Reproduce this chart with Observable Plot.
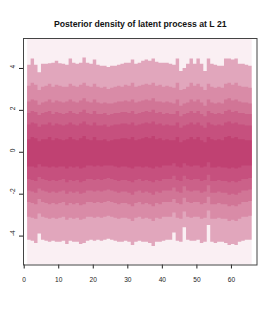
<!DOCTYPE html>
<html>
<head>
<meta charset="utf-8">
<script src="https://cdn.jsdelivr.net/npm/d3@7"></script>
<script src="https://cdn.jsdelivr.net/npm/@observablehq/plot@0.6"></script>
<style>
  html, body { margin: 0; padding: 0; background: #fff; }
  #chart svg { display: block; }
  #chart svg text { opacity: 0.99; }
</style>
</head>
<body>
<div id="chart"></div>
<script>
const titleText = "Posterior density of latent process at L 21";
const xTicks = [0, 10, 20, 30, 40, 50, 60];
const yTicks = [-4, -2, 0, 2, 4];

// time index (columns)
const t = d3.range(1, 66);

// upper quantile boundaries per column
const q99 = [4.15,4.45,4.15,3.8,4.2,4.2,4.22,4.25,4.35,4.22,4.2,4.15,4.45,4.25,4.2,4.25,4.5,4.25,4.2,4.4,4.15,4.1,4.1,4.05,4.1,4.1,4.15,4.2,4.25,4.25,4.4,4.2,4.25,4.35,4.4,4.35,4.45,4.3,4.25,4.25,4.25,4.2,4.15,4.45,3.85,4.0,4.2,4.45,4.2,4.45,4.2,3.85,4.45,4.2,4.15,4.1,4.1,4.45,4.45,4.4,4.45,4.2,4.2,4.15,4.1];
const q95 = [3.15,3.3,3.2,2.95,3.1,3.15,3.25,3.1,3.2,3.15,3.1,3.1,3.25,3.15,3.1,3.2,3.3,3.15,3.1,3.25,3.1,3.05,3.1,3.0,3.05,3.1,3.15,3.1,3.2,3.15,3.3,3.1,3.15,3.2,3.25,3.2,3.3,3.15,3.2,3.1,3.15,3.1,3.05,3.3,2.95,3.0,3.1,3.3,3.15,3.25,3.1,2.95,3.25,3.1,3.05,3.1,3.05,3.25,3.3,3.2,3.3,3.15,3.1,3.1,3.05];
const q90 = [2.4,2.5,2.45,2.25,2.35,2.4,2.5,2.35,2.45,2.4,2.35,2.4,2.5,2.4,2.35,2.45,2.55,2.4,2.35,2.5,2.35,2.3,2.35,2.3,2.3,2.35,2.4,2.4,2.45,2.4,2.5,2.35,2.4,2.45,2.5,2.45,2.55,2.4,2.4,2.35,2.4,2.35,2.3,2.5,2.2,2.3,2.35,2.5,2.4,2.5,2.35,2.2,2.5,2.35,2.3,2.35,2.3,2.5,2.55,2.45,2.5,2.4,2.35,2.35,2.3];
const q85 = [1.85,1.95,1.9,1.75,1.85,1.9,1.95,1.8,1.9,1.85,1.8,1.85,1.95,1.85,1.8,1.9,2.0,1.85,1.8,1.95,1.8,1.8,1.85,1.75,1.8,1.85,1.85,1.9,1.9,1.85,1.95,1.8,1.85,1.9,1.95,1.9,2.0,1.85,1.9,1.8,1.85,1.8,1.8,1.95,1.7,1.8,1.85,1.95,1.85,1.95,1.8,1.7,1.95,1.85,1.8,1.85,1.8,1.95,2.0,1.9,1.95,1.85,1.85,1.8,1.8];
const q75 = [1.3,1.4,1.35,1.2,1.3,1.3,1.4,1.25,1.35,1.3,1.25,1.3,1.4,1.3,1.25,1.35,1.45,1.3,1.25,1.4,1.25,1.25,1.3,1.2,1.25,1.3,1.3,1.35,1.35,1.3,1.4,1.25,1.3,1.35,1.4,1.35,1.45,1.3,1.35,1.25,1.3,1.25,1.25,1.4,1.15,1.25,1.3,1.4,1.3,1.4,1.25,1.15,1.4,1.3,1.25,1.3,1.25,1.4,1.45,1.35,1.4,1.3,1.3,1.25,1.25];
const q65 = [0.6,0.7,0.65,0.5,0.6,0.6,0.7,0.55,0.65,0.6,0.55,0.6,0.7,0.6,0.55,0.65,0.75,0.6,0.55,0.7,0.55,0.55,0.6,0.5,0.55,0.6,0.6,0.65,0.65,0.6,0.7,0.55,0.6,0.65,0.7,0.65,0.75,0.6,0.65,0.55,0.6,0.55,0.55,0.7,0.45,0.55,0.6,0.7,0.6,0.7,0.55,0.45,0.7,0.6,0.55,0.6,0.55,0.7,0.75,0.65,0.7,0.6,0.6,0.55,0.55];

// lower quantile boundaries per column
const q35 = [-0.7,-0.7,-0.75,-0.6,-0.7,-0.7,-0.75,-0.7,-0.75,-0.7,-0.7,-0.8,-0.7,-0.75,-0.7,-0.8,-0.75,-0.65,-0.65,-0.7,-0.65,-0.7,-0.65,-0.65,-0.65,-0.7,-0.75,-0.7,-0.7,-0.75,-0.8,-0.7,-0.7,-0.75,-0.7,-0.75,-0.8,-0.7,-0.75,-0.65,-0.65,-0.65,-0.55,-0.7,-0.75,-0.55,-0.65,-0.7,-0.65,-0.65,-0.75,-0.7,-0.5,-0.75,-0.75,-0.7,-0.75,-0.75,-0.8,-0.75,-0.8,-0.75,-0.65,-0.65,-0.65];
const q25 = [-1.3,-1.35,-1.4,-1.2,-1.3,-1.35,-1.4,-1.35,-1.4,-1.35,-1.3,-1.45,-1.35,-1.4,-1.35,-1.45,-1.4,-1.3,-1.3,-1.35,-1.3,-1.35,-1.3,-1.25,-1.3,-1.35,-1.4,-1.35,-1.35,-1.4,-1.45,-1.35,-1.3,-1.4,-1.35,-1.4,-1.45,-1.35,-1.4,-1.3,-1.3,-1.3,-1.15,-1.35,-1.4,-1.15,-1.3,-1.35,-1.3,-1.3,-1.4,-1.35,-1.1,-1.4,-1.4,-1.35,-1.4,-1.4,-1.45,-1.4,-1.45,-1.4,-1.3,-1.3,-1.25];
const q15 = [-1.85,-1.9,-1.95,-1.75,-1.85,-1.9,-1.95,-1.9,-1.95,-1.9,-1.85,-2.0,-1.9,-1.95,-1.9,-2.0,-1.95,-1.85,-1.85,-1.9,-1.85,-1.9,-1.85,-1.8,-1.85,-1.9,-1.95,-1.9,-1.9,-1.95,-2.05,-1.9,-1.85,-1.95,-1.9,-1.95,-2.05,-1.9,-1.95,-1.85,-1.85,-1.85,-1.7,-1.9,-1.95,-1.65,-1.85,-1.9,-1.85,-1.85,-1.95,-1.9,-1.6,-1.95,-1.95,-1.9,-1.95,-1.95,-2.05,-2.0,-2.05,-1.95,-1.85,-1.85,-1.8];
const q10 = [-2.4,-2.45,-2.5,-2.25,-2.4,-2.45,-2.5,-2.45,-2.5,-2.45,-2.4,-2.55,-2.45,-2.5,-2.45,-2.55,-2.5,-2.4,-2.4,-2.45,-2.4,-2.45,-2.4,-2.35,-2.4,-2.45,-2.5,-2.45,-2.45,-2.5,-2.6,-2.45,-2.4,-2.5,-2.45,-2.5,-2.6,-2.45,-2.5,-2.4,-2.4,-2.4,-2.25,-2.45,-2.5,-2.2,-2.4,-2.45,-2.4,-2.4,-2.5,-2.45,-2.15,-2.5,-2.5,-2.45,-2.5,-2.5,-2.6,-2.55,-2.6,-2.5,-2.4,-2.4,-2.35];
const q05 = [-3.1,-3.15,-3.2,-2.95,-3.1,-3.15,-3.2,-3.15,-3.2,-3.15,-3.1,-3.25,-3.15,-3.2,-3.15,-3.25,-3.2,-3.1,-3.1,-3.15,-3.1,-3.15,-3.1,-3.05,-3.1,-3.15,-3.2,-3.15,-3.15,-3.2,-3.3,-3.15,-3.1,-3.2,-3.15,-3.2,-3.3,-3.15,-3.2,-3.1,-3.1,-3.1,-2.9,-3.15,-3.2,-2.85,-3.1,-3.15,-3.1,-3.1,-3.2,-3.15,-2.8,-3.2,-3.2,-3.15,-3.2,-3.2,-3.3,-3.25,-3.3,-3.2,-3.1,-3.1,-3.05];
const q01 = [-4.2,-4.25,-4.35,-3.9,-4.2,-4.25,-4.3,-4.25,-4.3,-4.3,-4.25,-4.4,-4.25,-4.3,-4.3,-4.4,-4.35,-4.25,-4.2,-4.25,-4.2,-4.25,-4.2,-4.15,-4.2,-4.25,-4.3,-4.3,-4.25,-4.3,-4.45,-4.3,-4.25,-4.3,-4.3,-4.35,-4.5,-4.3,-4.3,-4.25,-4.2,-4.2,-3.85,-4.25,-4.3,-3.6,-4.2,-4.25,-4.25,-4.2,-4.35,-4.3,-3.5,-4.3,-4.35,-4.3,-4.3,-4.35,-4.45,-4.4,-4.45,-4.3,-4.25,-4.2,-4.2];

const bandColors = ["#e1a6bc", "#d98ba7", "#d17596", "#cb6189", "#c6507e", "#c04172"];
const paleColor = "#faeff3";

const yDomain = [-5.38, 5.43];
const xDomain = [-0.2, 67.4];

function band(lo, hi) {
  const rows = t.map((x, i) => ({x, lo: lo[i], hi: hi[i]}));
  rows.push({x: t[t.length - 1] + 1, lo: lo[lo.length - 1], hi: hi[hi.length - 1]});
  return rows;
}

const bands = [
  [q01, q99], [q05, q95], [q10, q90], [q15, q85], [q25, q75], [q35, q65]
];

const marks = [
  Plot.rectY([{x1: t[0], x2: t[t.length - 1] + 1}], {x1: "x1", x2: "x2", y1: yDomain[0], y2: yDomain[1], fill: paleColor}),
  ...bands.map(([lo, hi], k) =>
    Plot.areaY(band(lo, hi), {x: "x", y1: "lo", y2: "hi", curve: "step-after", fill: bandColors[k]})
  ),
  Plot.axisX({ticks: xTicks, tickSize: 4, tickPadding: 8, fontSize: 6.6, label: null, tickFormat: d => String(d), fill: "#222"}),
  Plot.axisY({ticks: yTicks, tickSize: 4, tickFormat: () => "", label: null}),
  Plot.text(yTicks, {y: d => d, text: d => String(d), frameAnchor: "left", dx: -11, rotate: -90, fontSize: 6.6, fill: "#222"}),
  Plot.text([titleText], {frameAnchor: "top", dy: -18, fontWeight: "bold", fontSize: 8.7, fill: "#111"}),
  Plot.frame({stroke: "#444", strokeWidth: 1})
];

const chart = Plot.plot({
  width: 275,
  height: 314,
  marginLeft: 23,
  marginRight: 18.5,
  marginTop: 38,
  marginBottom: 49.5,
  x: {domain: xDomain},
  y: {domain: yDomain},
  style: {fontFamily: "Liberation Sans, Arial, Helvetica, sans-serif", color: "#222", background: "#fff"},
  marks
});
document.getElementById("chart").appendChild(chart);
</script>
</body>
</html>
